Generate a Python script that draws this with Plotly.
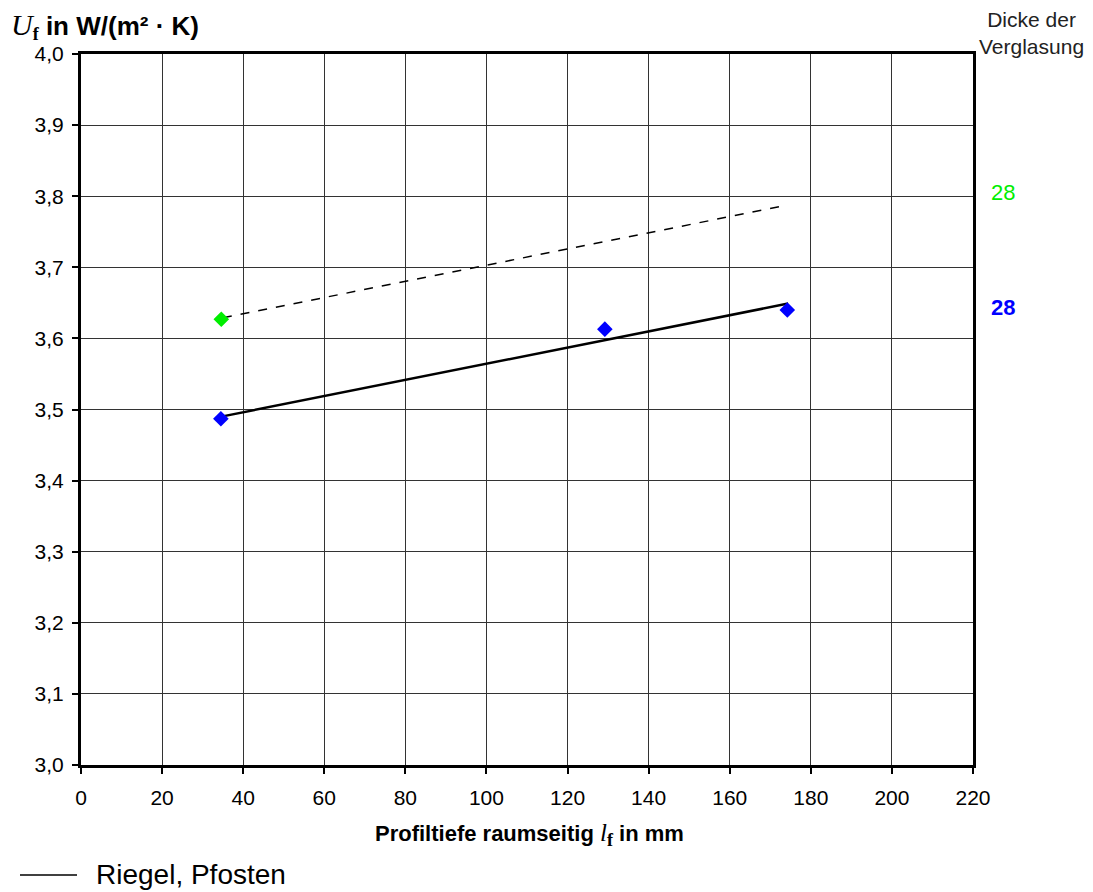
import plotly.graph_objects as go

# Data
blue_x = [34.5, 129.2, 174.2]
blue_y = [3.487, 3.613, 3.640]
green_x = [34.6]
green_y = [3.627]
fit_solid_x = [34.6, 174.4]
fit_solid_y = [3.490, 3.649]
fit_dash_x = [35.0, 172.9]
fit_dash_y = [3.629, 3.786]
x_ticks = list(range(0, 221, 20))
y_ticks = [3.0, 3.1, 3.2, 3.3, 3.4, 3.5, 3.6, 3.7, 3.8, 3.9, 4.0]
right_labels = [("28", 3.805, "#00ee00", False), ("28", 3.643, "#0000ff", True)]
legend_label = "Riegel, Pfosten"

W, H = 1093, 892
L, R, T, B = 81, 120, 54, 127
PW, PH = W - L - R, H - T - B

def px(xp):
    return (xp - L) / PW

fig = go.Figure()
fig.add_trace(go.Scatter(x=fit_dash_x, y=fit_dash_y, mode="lines",
                         line=dict(color="black", width=1.5, dash="dash"), showlegend=False))
fig.add_trace(go.Scatter(x=fit_solid_x, y=fit_solid_y, mode="lines",
                         line=dict(color="black", width=2.5), name=legend_label, showlegend=False))
fig.add_trace(go.Scatter(x=green_x, y=green_y, mode="markers",
                         marker=dict(symbol="diamond", size=12, color="#00ee00"), showlegend=False))
fig.add_trace(go.Scatter(x=blue_x, y=blue_y, mode="markers",
                         marker=dict(symbol="diamond", size=12, color="#0000ff"), showlegend=False))

font_main = "Liberation Sans, Arial, sans-serif"
serif = "Liberation Serif, Times New Roman, serif"
annotations = []
for txt, yv, col, bold in right_labels:
    annotations.append(dict(x=px(1003), xref="paper", y=yv, yref="y", xanchor="center",
                            text=f"<b>{txt}</b>" if bold else txt, showarrow=False,
                            font=dict(size=22, color=col, family=font_main)))
annotations.append(dict(x=px(1031), xref="paper", y=1.0, yref="paper", xanchor="center", yanchor="middle",
                        yshift=54 - 33,
                        text="Dicke der<br>Verglasung", showarrow=False, align="center",
                        font=dict(size=21, color="#222", family=font_main)))
annotations.append(dict(x=px(9), xref="paper", y=1.0, yref="paper", xanchor="left", yanchor="middle",
                        yshift=54 - 26,
                        text=f"<span style='font-family:{serif};font-style:italic;font-size:30px'>U</span>"
                             f"<sub><span style='font-family:{serif};font-weight:bold;font-size:18px'>f</span></sub>"
                             "<b> in W/(m² · K)</b>",
                        showarrow=False, font=dict(size=26, color="black", family=font_main)))
annotations.append(dict(x=px(529), xref="paper", y=0, yref="paper", xanchor="center", yanchor="middle",
                        yshift=-(834 - 765),
                        text="<b>Profiltiefe raumseitig </b>"
                             f"<span style='font-family:{serif};font-style:italic;font-size:25px'>l</span>"
                             f"<sub><span style='font-family:{serif};font-weight:bold;font-size:18px'>f</span></sub>"
                             "<b> in mm</b>",
                        showarrow=False, font=dict(size=22, color="black", family=font_main)))
annotations.append(dict(x=px(94), xref="paper", y=0, yref="paper", xanchor="left", yanchor="middle",
                        yshift=-(874 - 765),
                        text=legend_label, showarrow=False,
                        font=dict(size=28, color="black", family=font_main)))

fig.update_layout(
    width=W, height=H,
    margin=dict(l=L, r=R, t=T, b=B),
    plot_bgcolor="white", paper_bgcolor="white",
    separators=",.",
    annotations=annotations,
    font=dict(family=font_main, size=21, color="black"),
    xaxis=dict(range=[0, 220], tickvals=x_ticks, showgrid=True, gridcolor="#333", gridwidth=1,
               showline=True, linecolor="black", linewidth=3, mirror=True,
               ticks="outside", ticklen=6, tickwidth=2, tickcolor="black", ticklabelstandoff=6,
               tickfont=dict(size=21), zeroline=False),
    yaxis=dict(range=[3.0, 4.0], tickvals=y_ticks, tickformat=".1f", showgrid=True, gridcolor="#333",
               gridwidth=1, showline=True, linecolor="black", linewidth=3, mirror=True,
               ticks="outside", ticklen=6, tickwidth=2, tickcolor="black", ticklabelstandoff=4,
               tickfont=dict(size=21), zeroline=False),
)
fig.add_shape(type="line", xref="paper", yref="paper", x0=px(20), x1=px(77),
              y0=-(875 - 765) / PH, y1=-(875 - 765) / PH, line=dict(color="black", width=1.5))
fig.write_html("out.html", config={"displayModeBar": False},
               post_script="document.body.style.margin='0';document.body.style.padding='0';")
